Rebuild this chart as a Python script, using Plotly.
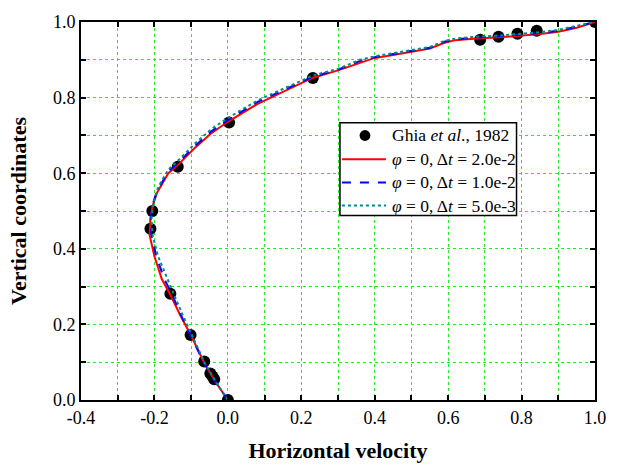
import plotly.graph_objects as go

# Ghia et al. (1982) benchmark data
ghia_u = [1.0, 0.84123, 0.78871, 0.73722, 0.68717, 0.23151, 0.00332, -0.13641,
          -0.20581, -0.21090, -0.15662, -0.10150, -0.06434, -0.04775, -0.04192, -0.03717, 0.0]
ghia_y = [1.0, 0.9766, 0.9688, 0.9609, 0.9531, 0.8516, 0.7344, 0.6172,
          0.5, 0.4531, 0.2813, 0.1719, 0.1016, 0.0703, 0.0625, 0.0547, 0.0]

# dt = 2.0e-2
red_y = [0.0, 0.05, 0.10, 0.17, 0.225, 0.275, 0.32, 0.38, 0.436, 0.479, 0.514, 0.548, 0.570, 0.600,
         0.622, 0.645, 0.666, 0.705, 0.736, 0.783, 0.815, 0.852, 0.872, 0.893, 0.905, 0.913, 0.93,
         0.945, 0.952, 0.955, 0.96, 0.968, 0.974, 0.985, 1.0]
red_u = [0.0, -0.035, -0.065, -0.10, -0.13, -0.155, -0.18, -0.20, -0.213, -0.211, -0.205, -0.193, -0.180,
         -0.162, -0.136, -0.112, -0.091, -0.046, 0.0, 0.08, 0.15, 0.23, 0.30, 0.36, 0.40, 0.45, 0.55,
         0.59, 0.62, 0.66, 0.75, 0.85, 0.90, 0.95, 1.0]

# dt = 1.0e-2
blue_y = [0.0, 0.05, 0.10, 0.17, 0.225, 0.275, 0.32, 0.38, 0.436, 0.48, 0.517, 0.552, 0.575, 0.605,
          0.627, 0.65, 0.671, 0.71, 0.741, 0.788, 0.82, 0.855, 0.874, 0.897, 0.907, 0.915, 0.932,
          0.948, 0.954, 0.958, 0.963, 0.971, 0.977, 0.988, 1.0]
blue_u = [0.0, -0.035, -0.066, -0.10, -0.128, -0.15, -0.173, -0.195, -0.208, -0.21, -0.205, -0.193, -0.180,
          -0.162, -0.136, -0.112, -0.091, -0.046, 0.0, 0.08, 0.15, 0.23, 0.30, 0.36, 0.40, 0.45, 0.55,
          0.59, 0.62, 0.66, 0.75, 0.85, 0.90, 0.95, 1.0]

# dt = 5.0e-3
teal_y = [0.0, 0.05, 0.10, 0.17, 0.225, 0.275, 0.32, 0.38, 0.436, 0.48, 0.52, 0.556, 0.58, 0.61,
          0.633, 0.656, 0.677, 0.716, 0.746, 0.792, 0.823, 0.858, 0.876, 0.9, 0.909, 0.917, 0.934,
          0.95, 0.956, 0.96, 0.965, 0.973, 0.979, 0.99, 1.0]
teal_u = [0.0, -0.034, -0.064, -0.098, -0.123, -0.145, -0.165, -0.19, -0.205, -0.208, -0.203, -0.193, -0.18,
          -0.162, -0.136, -0.112, -0.091, -0.046, 0.0, 0.08, 0.15, 0.23, 0.30, 0.36, 0.40, 0.45, 0.55,
          0.59, 0.62, 0.66, 0.75, 0.85, 0.90, 0.95, 1.0]

x_ticks = [-0.4, -0.2, 0.0, 0.2, 0.4, 0.6, 0.8, 1.0]
x_labels = ["-0.4", "-0.2", "0.0", "0.2", "0.4", "0.6", "0.8", "1.0"]
y_ticks = [0.0, 0.2, 0.4, 0.6, 0.8, 1.0]
y_labels = ["0.0", "0.2", "0.4", "0.6", "0.8", "1.0"]

series_names = ["Ghia <i>et al</i>., 1982",
                "<i>φ</i> = 0, Δ<i>t</i> = 2.0e-2",
                "<i>φ</i> = 0, Δ<i>t</i> = 1.0e-2",
                "<i>φ</i> = 0, Δ<i>t</i> = 5.0e-3"]

FONT = "Liberation Serif, Times New Roman, serif"
GRID = "#22ee22"
COLORS = ["black", "#ff0000", "#0000ff", "#008b8b"]
DASHES = [None, "solid", "dash", "dot"]

fig = go.Figure()
fig.add_trace(go.Scatter(x=ghia_u, y=ghia_y, mode="markers", name=series_names[0],
                         marker=dict(color=COLORS[0], size=12)))
for u, y, name, c, d in [(red_u, red_y, series_names[1], COLORS[1], DASHES[1]),
                         (blue_u, blue_y, series_names[2], COLORS[2], DASHES[2]),
                         (teal_u, teal_y, series_names[3], COLORS[3], DASHES[3])]:
    fig.add_trace(go.Scatter(x=u, y=y, mode="lines", name=name,
                             line=dict(color=c, width=2, dash=d)))

axis_common = dict(
    showline=True, linecolor="black", linewidth=2, mirror="allticks",
    ticks="inside", ticklen=5, tickwidth=1.5, tickcolor="black",
    showgrid=True, gridcolor=GRID, griddash="dot", gridwidth=1,
    zeroline=False,
    tickfont=dict(family=FONT, size=18, color="black"),
)

fig.update_xaxes(range=[-0.4, 1.0], tickvals=x_ticks, ticktext=x_labels,
                 minor=dict(dtick=0.1, tick0=0, ticks="inside", ticklen=5, tickcolor="black",
                            showgrid=True, gridcolor=GRID, griddash="dot", gridwidth=1),
                 title=dict(text="<b>Horizontal velocity</b>",
                            font=dict(family=FONT, size=22, color="black"), standoff=16),
                 **axis_common)
fig.update_yaxes(range=[0.0, 1.0], tickvals=y_ticks, ticktext=y_labels,
                 minor=dict(dtick=0.1, tick0=0, ticks="inside", ticklen=5, tickcolor="black",
                            showgrid=True, gridcolor=GRID, griddash="dot", gridwidth=1),
                 title=dict(text="<b>Vertical coordinates</b>",
                            font=dict(family=FONT, size=22, color="black"), standoff=20),
                 **axis_common)

# ---- legend box drawn in paper coordinates (plot area: 524 x 383 px) ----
PW, PH = 524.0, 383.0
def px(xpix):  # pixel offset from plot left -> paper
    return xpix / PW
def py(ypix):  # pixel offset from plot top -> paper
    return 1.0 - ypix / PH

box_l, box_r, box_t, box_b = 264, 444, 102, 196
row_y = [115, 139, 162.5, 186]
sample_l, sample_r = 266, 311
text_x = 315

shapes = [dict(type="rect", xref="paper", yref="paper", layer="above",
               x0=px(box_l), x1=px(box_r), y0=py(box_b), y1=py(box_t),
               line=dict(color="black", width=1.5), fillcolor="white")]
annotations = []
for i, name in enumerate(series_names):
    if i == 0:
        cx = (sample_l + sample_r) / 2 + 1
        r = 5.5
        shapes.append(dict(type="circle", xref="paper", yref="paper", layer="above",
                           x0=px(cx - r), x1=px(cx + r), y0=py(row_y[i] + r), y1=py(row_y[i] - r),
                           line=dict(color="black", width=0), fillcolor="black"))
    else:
        shapes.append(dict(type="line", xref="paper", yref="paper", layer="above",
                           x0=px(sample_l), x1=px(sample_r), y0=py(row_y[i]), y1=py(row_y[i]),
                           line=dict(color=COLORS[i], width=2, dash=DASHES[i])))
    annotations.append(dict(text=name, xref="paper", yref="paper", x=px(text_x), y=py(row_y[i]),
                            xanchor="left", yanchor="middle", showarrow=False,
                            font=dict(family=FONT, size=17.5, color="black")))

fig.update_layout(
    width=618, height=471,
    margin=dict(l=81, r=13, t=17, b=71),
    paper_bgcolor="white", plot_bgcolor="white",
    font=dict(family=FONT, size=18, color="black"),
    showlegend=False,
    shapes=shapes, annotations=annotations,
)

fig.write_html("out.html")
